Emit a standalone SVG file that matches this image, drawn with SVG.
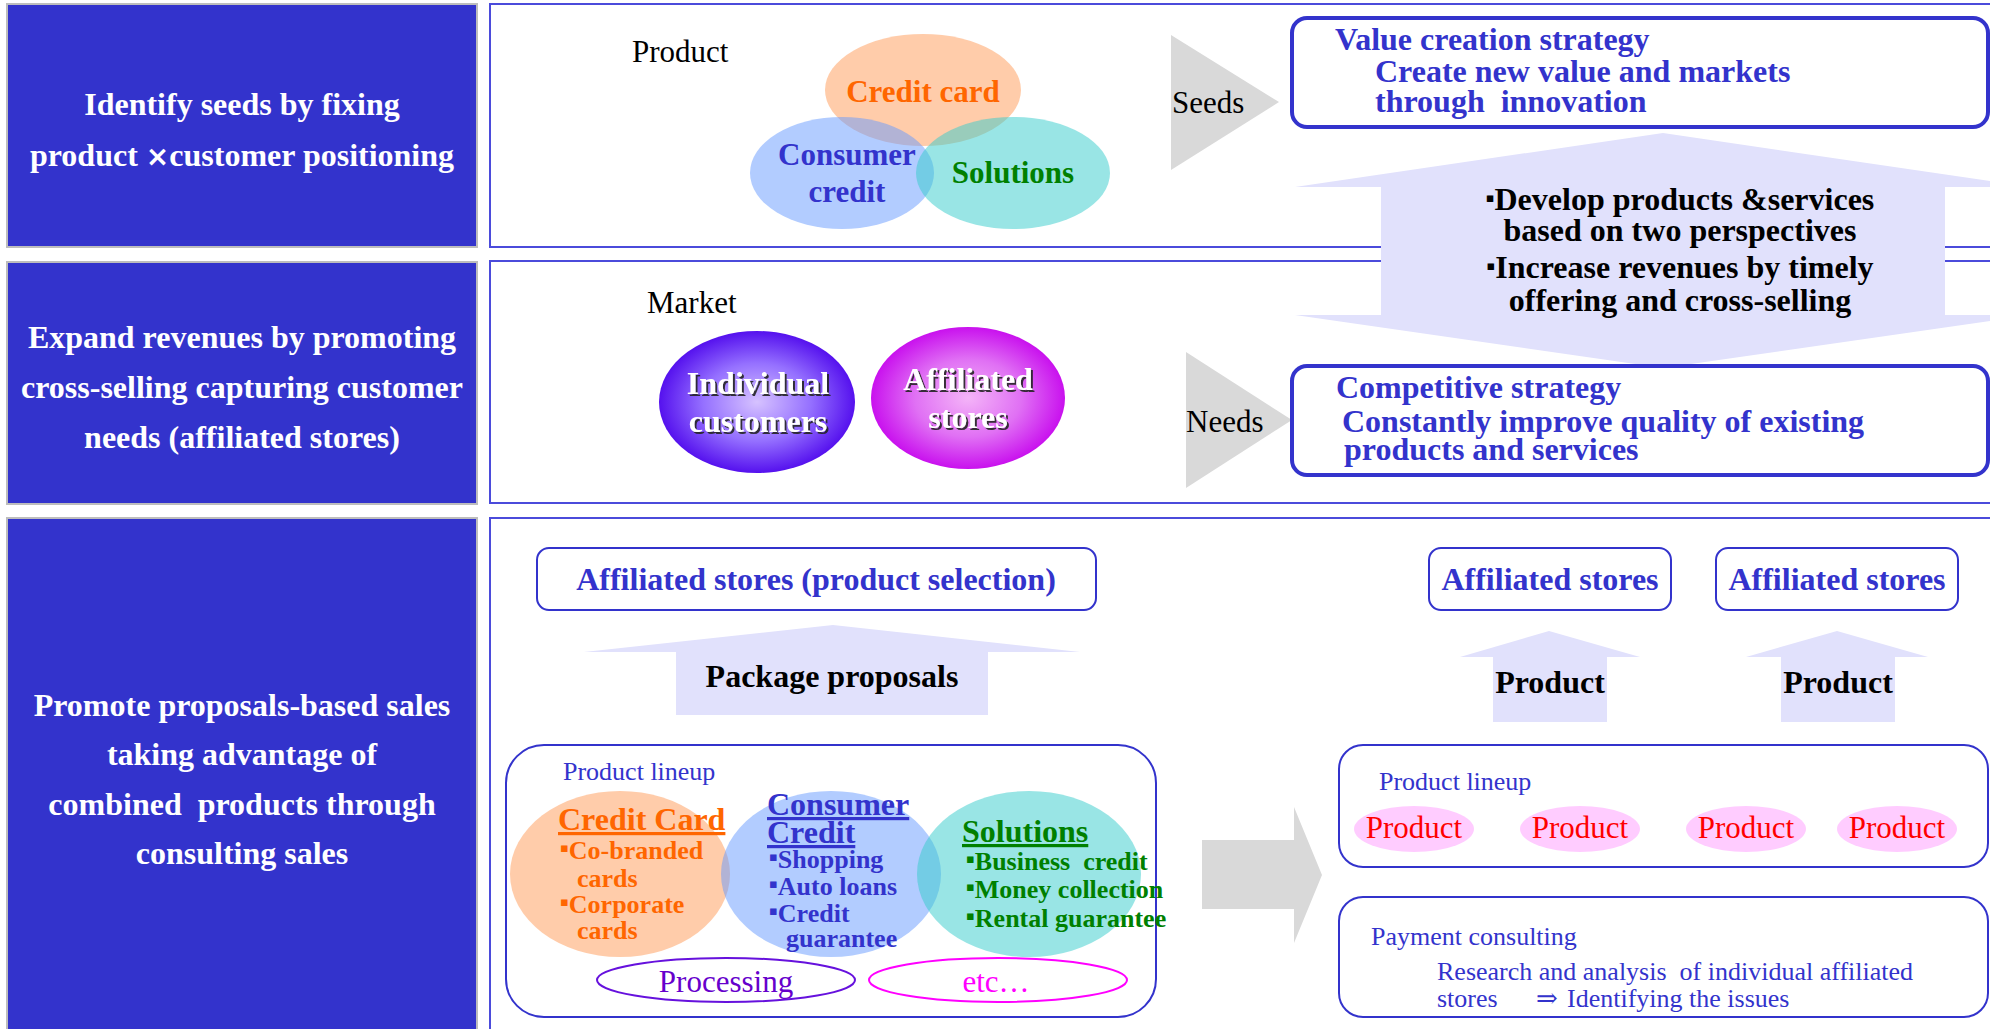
<svg xmlns="http://www.w3.org/2000/svg" width="1990" height="1029" viewBox="0 0 1990 1029">
  <defs>
    <radialGradient id="gIndividual" cx="50%" cy="50%" r="50%">
      <stop offset="0" stop-color="#D6C2FF"/>
      <stop offset="0.55" stop-color="#9570FF"/>
      <stop offset="1" stop-color="#5511EE"/>
    </radialGradient>
    <radialGradient id="gAffiliated" cx="50%" cy="50%" r="50%">
      <stop offset="0" stop-color="#F4B4F8"/>
      <stop offset="0.55" stop-color="#E070F4"/>
      <stop offset="1" stop-color="#C911EE"/>
    </radialGradient>
    <filter id="shadow" x="-10%" y="-10%" width="130%" height="140%">
      <feDropShadow dx="2" dy="2" stdDeviation="0.6" flood-color="#222" flood-opacity="0.9"/>
    </filter>
  </defs>
  <style>
    text { font-family: "Liberation Serif", "Times New Roman", "DejaVu Serif", serif; white-space: pre; }
    .side { fill: #3333CC; stroke: #BDBDBD; stroke-width: 2; }
    .sideTxt { fill: #FFFFFF; font-size: 32px; font-weight: bold; text-anchor: middle; }
    .panel { fill: #FFFFFF; stroke: #4B4BDB; stroke-width: 2; }
    .strat { fill: #FFFFFF; stroke: #3333CC; stroke-width: 4; }
    .box { fill: #FFFFFF; stroke: #3333CC; stroke-width: 2; }
    .blueB { fill: #3333CC; font-weight: bold; font-size: 32px; }
    .blue { fill: #3333CC; font-size: 26px; }
    .plain { fill: #000000; font-size: 31px; }
    .blackB { fill: #000000; font-weight: bold; font-size: 32px; }
    .lav { fill: #E1E1FC; }
    .gray { fill: #D9D9D9; }
    .peach { fill: #FF9955; fill-opacity: 0.5; }
    .sky { fill: #6699FF; fill-opacity: 0.5; }
    .teal { fill: #33CCCC; fill-opacity: 0.5; }
    .orange { fill: #FF6600; font-weight: bold; }
    .navy { fill: #3333CC; font-weight: bold; }
    .green { fill: #008000; font-weight: bold; }
    .mid { text-anchor: middle; }
    .bul { font-family: "DejaVu Sans", sans-serif; font-size: 13px; }
    .pill { fill: #FFCCFF; }
    .pillTxt { fill: #FF0000; font-size: 31px; text-anchor: middle; }
    .white { fill: #FFFFFF; font-weight: bold; font-size: 32px; text-anchor: middle; filter: url(#shadow); }
  </style>

  <!-- left column: row headings -->
  <g id="row-seeds">
    <rect class="side" x="7" y="4" width="470" height="243"/>
    <text class="sideTxt" x="242" y="115">Identify seeds by fixing</text>
    <text class="sideTxt" x="242" y="166">product <tspan font-family="DejaVu Sans, sans-serif" font-size="28">×</tspan>customer positioning</text>
  </g>
  <g id="row-needs">
    <rect class="side" x="7" y="262" width="470" height="242"/>
    <text class="sideTxt" x="242" y="348">Expand revenues by promoting</text>
    <text class="sideTxt" x="242" y="398">cross-selling capturing customer</text>
    <text class="sideTxt" x="242" y="448">needs (affiliated stores)</text>
  </g>
  <g id="row-proposals">
    <rect class="side" x="7" y="518" width="470" height="520"/>
    <text class="sideTxt" x="242" y="716">Promote proposals-based sales</text>
    <text class="sideTxt" x="242" y="765">taking advantage of</text>
    <text class="sideTxt" x="242" y="815">combined  products through</text>
    <text class="sideTxt" x="242" y="864">consulting sales</text>
  </g>

  <!-- right column panels -->
  <g id="panels">
    <rect class="panel" x="490" y="4" width="1510" height="243"/>
    <rect class="panel" x="490" y="261" width="1510" height="242"/>
    <rect class="panel" x="490" y="518" width="1510" height="520"/>
  </g>

  <!-- product Venn -->
  <g id="product-venn">
    <text class="plain" x="632" y="62">Product</text>
    <ellipse class="peach" cx="923" cy="90" rx="98" ry="56"/>
    <ellipse class="sky" cx="842" cy="173" rx="92" ry="56"/>
    <ellipse class="teal" cx="1013" cy="173" rx="97" ry="56"/>
    <text class="orange mid" x="923" y="102" font-size="31">Credit card</text>
    <text class="navy mid" x="847" y="165" font-size="31">Consumer</text>
    <text class="navy mid" x="847" y="202" font-size="31">credit</text>
    <text class="green mid" x="1013" y="183" font-size="31">Solutions</text>
  </g>

  <!-- market circles -->
  <g id="market">
    <text class="plain" x="647" y="313">Market</text>
    <ellipse cx="757" cy="402" rx="98" ry="71" fill="url(#gIndividual)"/>
    <ellipse cx="968" cy="398" rx="97" ry="71" fill="url(#gAffiliated)"/>
    <text class="white" x="758" y="394">Individual</text>
    <text class="white" x="758" y="432">customers</text>
    <text class="white" x="968" y="390">Affiliated</text>
    <text class="white" x="968" y="428">stores</text>
  </g>

  <!-- connectors: seeds / needs / two-way / proposals / product flows -->
  <g id="connectors">
    <polygon class="gray" points="1171,35 1279,102 1171,170"/>
    <polygon class="gray" points="1186,352 1292,420 1186,488"/>
    <polygon class="lav" points="1663,133 2031,187 1945,187 1945,315 2031,315 1663,368 1295,315 1381,315 1381,187 1295,187"/>
    <polygon class="lav" points="833,625 1080,652 988,652 988,715 676,715 676,652 584,652"/>
    <polygon class="lav" points="1549,631 1640,657 1607,657 1607,722 1493,722 1493,657 1460,657"/>
    <polygon class="lav" points="1837,631 1928,657 1895,657 1895,722 1781,722 1781,657 1746,657"/>
    <polygon class="gray" points="1202,840 1294,840 1294,807 1322,875 1294,943 1294,909 1202,909"/>
  </g>

  <g id="labels">
    <text class="plain" x="1172" y="113">Seeds</text>
    <text class="plain" x="1186" y="432">Needs</text>
    <text class="blackB mid" x="1680" y="210"><tspan class="bul" dy="-8">▪</tspan><tspan dy="8">Develop products &amp;services</tspan></text>
    <text class="blackB mid" x="1680" y="241">based on two perspectives</text>
    <text class="blackB mid" x="1680" y="278"><tspan class="bul" dy="-8">▪</tspan><tspan dy="8">Increase revenues by timely</tspan></text>
    <text class="blackB mid" x="1680" y="311">offering and cross-selling</text>
    <text class="blackB mid" x="832" y="687">Package proposals</text>
    <text class="blackB mid" x="1550" y="693">Product</text>
    <text class="blackB mid" x="1838" y="693">Product</text>
  </g>

  <!-- strategies -->
  <g id="value-strategy">
    <rect class="strat" x="1292" y="18" width="696" height="109" rx="15"/>
    <text class="blueB" x="1335" y="50">Value creation strategy</text>
    <text class="blueB" x="1375" y="82">Create new value and markets</text>
    <text class="blueB" x="1375" y="112">through  innovation</text>
  </g>
  <g id="competitive-strategy">
    <rect class="strat" x="1292" y="366" width="696" height="109" rx="15"/>
    <text class="blueB" x="1336" y="398">Competitive strategy</text>
    <text class="blueB" x="1342" y="432">Constantly improve quality of existing</text>
    <text class="blueB" x="1344" y="460">products and services</text>
  </g>

  <!-- proposals section -->
  <g id="stores-selection">
    <rect class="box" x="537" y="548" width="559" height="62" rx="12"/>
    <text class="blueB mid" x="816" y="590">Affiliated stores (product selection)</text>
  </g>
  <g id="stores-a">
    <rect class="box" x="1429" y="548" width="242" height="62" rx="12"/>
    <text class="blueB mid" x="1550" y="590">Affiliated stores</text>
  </g>
  <g id="stores-b">
    <rect class="box" x="1716" y="548" width="242" height="62" rx="12"/>
    <text class="blueB mid" x="1837" y="590">Affiliated stores</text>
  </g>

  <g id="lineup-combined">
    <rect class="box" x="506" y="745" width="650" height="272" rx="38"/>
    <text class="blue" x="563" y="780">Product lineup</text>
    <ellipse class="peach" cx="620" cy="874" rx="110" ry="83"/>
    <ellipse class="sky" cx="831" cy="874" rx="110" ry="83"/>
    <ellipse class="teal" cx="1029" cy="874" rx="112" ry="83"/>
    <text class="orange" x="558" y="830" font-size="32" text-decoration="underline">Credit Card</text>
    <text class="orange" x="560" y="859" font-size="26"><tspan class="bul" dy="-7">▪</tspan><tspan dy="7">Co-branded</tspan></text>
    <text class="orange" x="577" y="887" font-size="26">cards</text>
    <text class="orange" x="560" y="913" font-size="26"><tspan class="bul" dy="-7">▪</tspan><tspan dy="7">Corporate</tspan></text>
    <text class="orange" x="577" y="939" font-size="26">cards</text>
    <text class="navy" x="767" y="815" font-size="32" text-decoration="underline">Consumer</text>
    <text class="navy" x="767" y="843" font-size="32" text-decoration="underline">Credit</text>
    <text class="navy" x="769" y="868" font-size="26"><tspan class="bul" dy="-7">▪</tspan><tspan dy="7">Shopping</tspan></text>
    <text class="navy" x="769" y="895" font-size="26"><tspan class="bul" dy="-7">▪</tspan><tspan dy="7">Auto loans</tspan></text>
    <text class="navy" x="769" y="922" font-size="26"><tspan class="bul" dy="-7">▪</tspan><tspan dy="7">Credit</tspan></text>
    <text class="navy" x="786" y="947" font-size="26">guarantee</text>
    <text class="green" x="962" y="842" font-size="32" text-decoration="underline">Solutions</text>
    <text class="green" x="966" y="870" font-size="26"><tspan class="bul" dy="-7">▪</tspan><tspan dy="7">Business  credit</tspan></text>
    <text class="green" x="966" y="898" font-size="26"><tspan class="bul" dy="-7">▪</tspan><tspan dy="7">Money collection</tspan></text>
    <text class="green" x="966" y="927" font-size="26"><tspan class="bul" dy="-7">▪</tspan><tspan dy="7">Rental guarantee</tspan></text>
    <ellipse cx="726" cy="980" rx="129" ry="22" fill="none" stroke="#6611DD" stroke-width="2"/>
    <text x="726" y="992" class="mid" font-size="31" fill="#6600CC">Processing</text>
    <ellipse cx="998" cy="980" rx="129" ry="22" fill="none" stroke="#FF00FF" stroke-width="2"/>
    <text x="996" y="992" class="mid" font-size="31" fill="#FF00FF">etc…</text>
  </g>

  <g id="lineup-products">
    <rect class="box" x="1339" y="745" width="649" height="122" rx="24"/>
    <text class="blue" x="1379" y="790">Product lineup</text>
    <ellipse class="pill" cx="1414" cy="829" rx="60" ry="23"/>
    <ellipse class="pill" cx="1580" cy="829" rx="60" ry="23"/>
    <ellipse class="pill" cx="1746" cy="829" rx="60" ry="23"/>
    <ellipse class="pill" cx="1897" cy="829" rx="60" ry="23"/>
    <text class="pillTxt" x="1414" y="838">Product</text>
    <text class="pillTxt" x="1580" y="838">Product</text>
    <text class="pillTxt" x="1746" y="838">Product</text>
    <text class="pillTxt" x="1897" y="838">Product</text>
  </g>

  <g id="payment-consulting">
    <rect class="box" x="1339" y="897" width="649" height="120" rx="24"/>
    <text class="blue" x="1371" y="945">Payment consulting</text>
    <text class="blue" x="1437" y="980">Research and analysis  of individual affiliated</text>
    <text class="blue" x="1437" y="1007">stores<tspan x="1536">⇒</tspan><tspan x="1567">Identifying the issues</tspan></text>
  </g>
</svg>
